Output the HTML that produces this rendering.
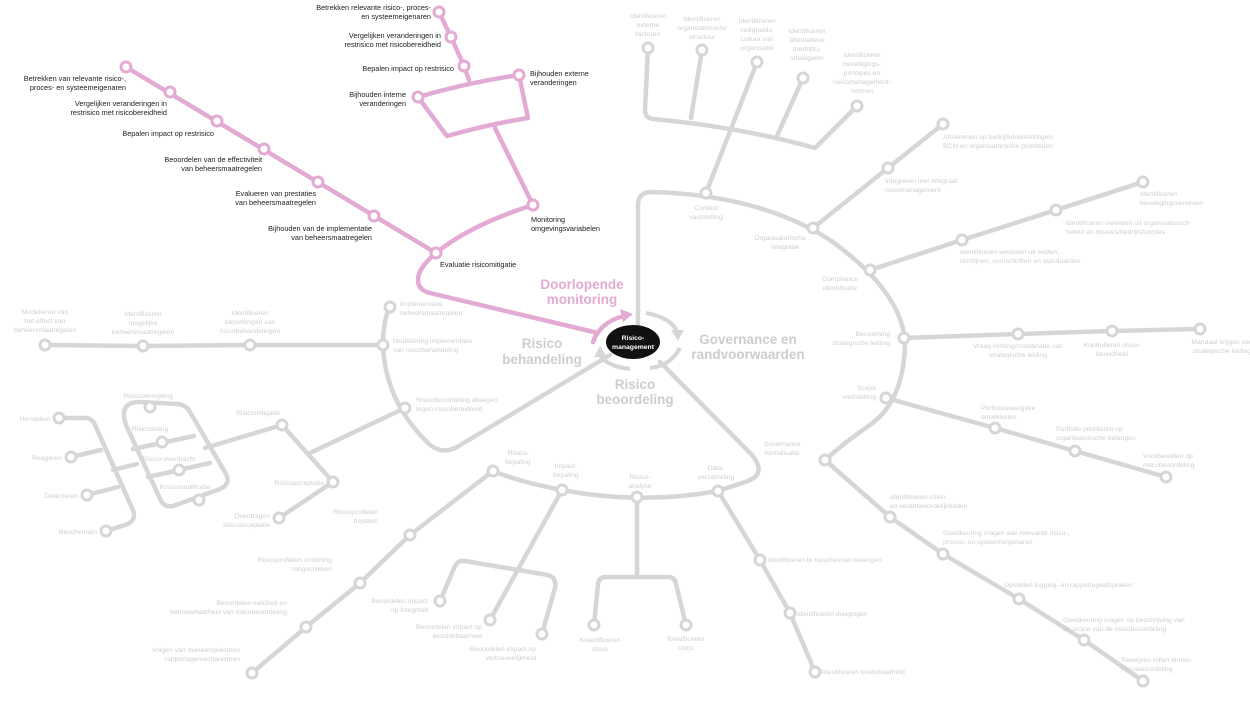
<!DOCTYPE html>
<html><head><meta charset="utf-8"><style>
html,body{margin:0;padding:0;background:#fff;}
svg{display:block;}
.g{fill:none;stroke:#d6d6d6;stroke-width:4.5;stroke-linecap:round;stroke-linejoin:round;}
.p{fill:none;stroke:#e3aad3;stroke-width:4.5;stroke-linecap:round;stroke-linejoin:round;}
.gn{fill:#fff;stroke:#d6d6d6;stroke-width:3;}
.pn{fill:#fff;stroke:#e3aad3;stroke-width:3;}
text{font-family:"Liberation Sans",sans-serif;}
.gt{font-size:6.8px;fill:#cfcfcf;}
.pt{font-size:7.3px;fill:#222;}
.big{font-size:13.5px;font-weight:bold;fill:#cdcdcd;}
</style></head><body>
<svg width="1250" height="703" viewBox="0 0 1250 703" xmlns="http://www.w3.org/2000/svg">
<!-- GOVERNANCE -->
<path class="g" d="M638,325 L638,205 Q638,192 652,192 Q760,195 830,240 Q900,290 905,340 Q905,400 870,425 Q845,442 825,460"/>
<path class="g" d="M648,48 L645,110 Q645,118 653,119 Q740,127 815,148 L857,106"/>
<path class="g" d="M702,50 L691,118"/><path class="g" d="M803,78 L777,136"/>
<path class="g" d="M757,62 L706,193"/>
<path class="g" d="M813,228 L888,168 L943,124"/>
<path class="g" d="M870,270 L962,240 L1056,210 L1143,182"/>
<path class="g" d="M904,338 L1018,334 L1112,331 L1200,329"/>
<path class="g" d="M886,398 L995,428 L1075,451 L1166,477"/>
<path class="g" d="M825,460 L890,517 L943,554 L1019,599 L1084,640 L1143,681"/>
<g class="gn">
<circle cx="648" cy="48" r="5"/><circle cx="702" cy="50" r="5"/><circle cx="757" cy="62" r="5"/><circle cx="803" cy="78" r="5"/><circle cx="857" cy="106" r="5"/>
<circle cx="706" cy="193" r="5"/><circle cx="813" cy="228" r="5"/><circle cx="888" cy="168" r="5"/><circle cx="943" cy="124" r="5"/>
<circle cx="870" cy="270" r="5"/><circle cx="962" cy="240" r="5"/><circle cx="1056" cy="210" r="5"/><circle cx="1143" cy="182" r="5"/>
<circle cx="904" cy="338" r="5"/><circle cx="1018" cy="334" r="5"/><circle cx="1112" cy="331" r="5"/><circle cx="1200" cy="329" r="5"/>
<circle cx="886" cy="398" r="5"/><circle cx="995" cy="428" r="5"/><circle cx="1075" cy="451" r="5"/><circle cx="1166" cy="477" r="5"/>
<circle cx="825" cy="460" r="5"/><circle cx="890" cy="517" r="5"/><circle cx="943" cy="554" r="5"/><circle cx="1019" cy="599" r="5"/><circle cx="1084" cy="640" r="5"/><circle cx="1143" cy="681" r="5"/>
</g>
<g class="gt" text-anchor="middle">
<text x="648" y="18">Identificeren</text><text x="648" y="27">externe</text><text x="648" y="36">factoren</text>
<text x="702" y="21">Identificeren</text><text x="702" y="30">organisatorische</text><text x="702" y="39">structuur</text>
<text x="757" y="23">Identificeren</text><text x="757" y="32">veiligheids-</text><text x="757" y="41">cultuur van</text><text x="757" y="50">organisatie</text>
<text x="807" y="33">Identificeren</text><text x="807" y="42">alternatieve</text><text x="807" y="51">(bedrijfs)-</text><text x="807" y="60">strategieën</text>
<text x="862" y="57">Identificeren</text><text x="862" y="66">beveiligings-</text><text x="862" y="75">principes en</text><text x="862" y="84">risicomanagement-</text><text x="862" y="93">normen</text>
<text x="706" y="210">Context</text><text x="706" y="219">vaststelling</text>
<text x="780" y="240">Organisatorische</text><text x="785" y="249">integratie</text>
<text x="840" y="281">Compliance</text><text x="840" y="290">identificatie</text>
<text x="1018" y="348">Vraag richting/coördinatie van</text><text x="1018" y="357">strategische leiding</text>
<text x="1112" y="347">Kontrolleren risico-</text><text x="1112" y="356">bereidheid</text>
<text x="1222" y="344">Mandaat krijgen van</text><text x="1222" y="353">strategische leiding</text>
<text x="782" y="446">Governance</text><text x="782" y="455">formalisatie</text>
</g>
<g class="gt">
<text x="885" y="183">Integreren met integraal</text><text x="885" y="192">risicomanagement</text>
<text x="943" y="139">Afstemmen op bedrijfsdoelstellingen,</text><text x="943" y="148">BCM en organisatorische prioriteiten</text>
<text x="960" y="254">Identificeren vereisten uit wetten,</text><text x="960" y="263">richtlijnen, voorschriften en standaarden</text>
<text x="1066" y="225">Identificeren vereisten uit organisatorisch</text><text x="1066" y="234">beleid en missies/bedrijfsfuncties</text>
<text x="1140" y="196">Identificeren</text><text x="1140" y="205">beveiligingsvereisten</text>
<text x="981" y="410">Portfolioweergave</text><text x="981" y="419">ontwikkelen</text>
<text x="1056" y="431">Portfolio prioriteren op</text><text x="1056" y="440">organisatorische belangen</text>
<text x="1143" y="458">Voorbereiden op</text><text x="1143" y="467">risicobeoordeling</text>
<text x="890" y="499">Identificeren rollen</text><text x="890" y="508">en verantwoordelijkheden</text>
<text x="943" y="535">Goedkeuring vragen aan relevante risico-,</text><text x="943" y="544">proces- en systeemeigenaren</text>
<text x="1004" y="587">Opstellen logging- en rapportageafspraken</text>
<text x="1063" y="622">Goedkeuring vragen op beschrijving van</text><text x="1063" y="631">de scope van de risicobeoordeling</text>
<text x="1121" y="662">Toewijzen rollen binnen</text><text x="1121" y="671">risicobeoordeling</text>
<text x="768" y="562">Identificeren te beschermen belangen</text>
<text x="797" y="616">Identificeren dreigingen</text>
<text x="822" y="674">Identificeren kwetsbaarheid</text>
<text x="400" y="306">Implementatie</text><text x="400" y="315">beheersmaatregelen</text>
<text x="393" y="343">Modellering implementatie</text><text x="393" y="352">van risicobehandeling</text>
<text x="416" y="402">Risicobeoordeling afwegen</text><text x="416" y="411">tegen risicobereidheid</text>
</g>
<g class="gt" text-anchor="end">
<text x="890" y="336">Benoeming</text><text x="890" y="345">strategische leiding</text>
<text x="876" y="390">Scope</text><text x="876" y="399">vaststelling</text>
</g>
<!-- BEOORDELING -->
<path class="g" d="M660,362 L752,455 Q768,475 745,482 L718,491 Q640,505 562,490 Q520,482 493,471"/>
<path class="g" d="M718,491 L760,560 L790,613 L815,672"/>
<path class="g" d="M637,497 L637,576"/>
<path class="g" d="M594,625 L598,584 Q599,577 606,577 L668,577 Q675,577 676,584 L686,625"/>
<path class="g" d="M562,490 L490,620"/>
<path class="g" d="M440,601 L455,566 Q458,560 465,561 L548,575 Q557,578 555,588 L542,634"/>
<path class="g" d="M493,471 L410,535 L360,583 L306,627 L252,673"/>
<g class="gn">
<circle cx="493" cy="471" r="5"/><circle cx="562" cy="490" r="5"/><circle cx="637" cy="497" r="5"/><circle cx="718" cy="491" r="5"/>
<circle cx="760" cy="560" r="5"/><circle cx="790" cy="613" r="5"/><circle cx="815" cy="672" r="5"/>
<circle cx="594" cy="625" r="5"/><circle cx="686" cy="625" r="5"/>
<circle cx="490" cy="620" r="5"/><circle cx="440" cy="601" r="5"/><circle cx="542" cy="634" r="5"/>
<circle cx="410" cy="535" r="5"/><circle cx="360" cy="583" r="5"/><circle cx="306" cy="627" r="5"/><circle cx="252" cy="673" r="5"/>
</g>
<g class="gt" text-anchor="middle">
<text x="518" y="455">Risico-</text><text x="518" y="464">bepaling</text>
<text x="566" y="468">Impact-</text><text x="566" y="477">bepaling</text>
<text x="640" y="479">Risico-</text><text x="640" y="488">analyse</text>
<text x="716" y="470">Data-</text><text x="716" y="479">verzameling</text>
<text x="600" y="642">Kwantificeren</text><text x="600" y="651">risico</text>
<text x="686" y="641">Kwalificeren</text><text x="686" y="650">risico</text>
</g>
<g class="gt" text-anchor="end">
<text x="428" y="603">Beoordelen impact</text><text x="428" y="612">op integriteit</text>
<text x="482" y="629">Beoordelen impact op</text><text x="482" y="638">beschikbaarheid</text>
<text x="536" y="651">Beoordelen impact op</text><text x="536" y="660">vertrouwelijkheid</text>
<text x="378" y="514">Risicoprofielen</text><text x="378" y="523">bepalen</text>
<text x="332" y="562">Risicoprofielen onderling</text><text x="332" y="571">rangschikken</text>
<text x="287" y="605">Beoordelen validiteit en</text><text x="287" y="614">betrouwbaarheid van risicobeoordeling</text>
<text x="240" y="652">Volgen van overeengekomen</text><text x="240" y="661">rapportagemechanismen</text>
</g>
<!-- BEHANDELING -->
<path class="g" d="M610,355 L457,447 Q440,456 426,441 Q385,400 383,345 Q383,320 390,307"/>
<path class="g" d="M383,345 L250,345 L143,346 L45,345"/>
<path class="g" d="M405,408 L310,453"/>
<path class="g" d="M282,425 L333,482 L279,518"/>
<path class="g" d="M282,425 L205,448"/>
<path class="g" d="M126,425 Q121,410 128,405 Q132,402 140,402 L178,404 Q186,405 190,412 L226,474 Q231,484 220,489 L176,505 Q166,509 161,501 Z"/>
<path class="g" d="M133,449 L194,436"/><path class="g" d="M148,477 L210,463"/>
<path class="g" d="M59,418 L85,418 Q92,418 95,425 L133,510 Q137,521 125,525 L106,531"/>
<path class="g" d="M71,457 L101,450"/><path class="g" d="M87,495 L118,487"/><path class="g" d="M113,470 L137,464"/>
<g class="gn">
<circle cx="390" cy="307" r="5"/><circle cx="383" cy="345" r="5"/><circle cx="405" cy="408" r="5"/>
<circle cx="250" cy="345" r="5"/><circle cx="143" cy="346" r="5"/><circle cx="45" cy="345" r="5"/>
<circle cx="282" cy="425" r="5"/><circle cx="333" cy="482" r="5"/><circle cx="279" cy="518" r="5"/>
<circle cx="150" cy="407" r="5"/><circle cx="162" cy="442" r="5"/><circle cx="179" cy="470" r="5"/><circle cx="199" cy="500" r="5"/>
<circle cx="59" cy="418" r="5"/><circle cx="71" cy="457" r="5"/><circle cx="87" cy="495" r="5"/><circle cx="106" cy="531" r="5"/>
</g>
<g class="gt" text-anchor="middle">
<text x="250" y="315">Identificeren</text><text x="250" y="324">beperkingen van</text><text x="250" y="333">risicobehandelingen</text>
<text x="143" y="316">Identificeren</text><text x="143" y="325">mogelijke</text><text x="143" y="334">beheersmaatregelen</text>
<text x="45" y="314">Modelleren van</text><text x="45" y="323">het effect van</text><text x="45" y="332">beheersmaatregelen</text>
<text x="148" y="398">Risicovermijding</text><text x="150" y="431">Risicodeling</text><text x="169" y="461">Risico-overdracht</text><text x="185" y="489">Risicomodificatie</text>
<text x="258" y="415">Risicomitigatie</text>
</g>
<g class="gt" text-anchor="end">
<text x="50" y="421">Herstellen</text><text x="62" y="460">Reageren</text><text x="78" y="498">Detecteren</text><text x="97" y="534">Beschermen</text>
<text x="324" y="485">Risicoacceptatie</text>
<text x="270" y="518">Overdragen</text><text x="270" y="527">risicoacceptatie</text>
</g>
<!-- PINK MONITORING -->
<path class="p" d="M126,67 L436,253"/>
<path class="p" d="M439,12 L451,37 L464,66 L469,80"/>
<path class="p" d="M418,97 Q470,82 519,75 L528,118 Q490,124 447,136 Z"/>
<path class="p" d="M495,128 L533,205"/>
<path class="p" d="M533,205 Q470,225 436,253 Q418,268 418,280 Q418,290 430,293 L598,333"/>
<path class="p" d="M593,342 Q600,322 624,316"/>
<path fill="#e3aad3" d="M633,314 L620,309 L623,322 Z"/>
<g class="pn">
<circle cx="126" cy="67" r="5"/><circle cx="170" cy="92" r="5"/><circle cx="217" cy="121" r="5"/><circle cx="264" cy="149" r="5"/><circle cx="318" cy="182" r="5"/><circle cx="374" cy="216" r="5"/><circle cx="436" cy="253" r="5"/>
<circle cx="439" cy="12" r="5"/><circle cx="451" cy="37" r="5"/><circle cx="464" cy="66" r="5"/>
<circle cx="519" cy="75" r="5"/><circle cx="418" cy="97" r="5"/><circle cx="533" cy="205" r="5"/>
</g>
<g class="pt" text-anchor="end">
<text x="431" y="10">Betrekken relevante risico-, proces-</text><text x="431" y="19">en systeemeigenaren</text>
<text x="441" y="38">Vergelijken veranderingen in</text><text x="441" y="47">restrisico met risicobereidheid</text>
<text x="454" y="71">Bepalen impact op restrisico</text>
<text x="406" y="97">Bijhouden interne</text><text x="406" y="106">veranderingen</text>
<text x="126" y="81">Betrekken van relevante risico-,</text><text x="126" y="90">proces- en systeemeigenaren</text>
<text x="167" y="106">Vergelijken veranderingen in</text><text x="167" y="115">restrisico met risicobereidheid</text>
<text x="214" y="136">Bepalen impact op restrisico</text>
<text x="262" y="162">Beoordelen van de effectiviteit</text><text x="262" y="171">van beheersmaatregelen</text>
<text x="316" y="196">Evalueren van prestaties</text><text x="316" y="205">van beheersmaatregelen</text>
<text x="372" y="231">Bijhouden van de implementatie</text><text x="372" y="240">van beheersmaatregelen</text>
</g>
<g class="pt">
<text x="530" y="76">Bijhouden externe</text><text x="530" y="85">veranderingen</text>
<text x="531" y="222">Monitoring</text><text x="531" y="231">omgevingsvariabelen</text>
<text x="440" y="267">Evaluatie risicomitigatie</text>
</g>
<!-- CENTER -->
<path fill="none" stroke="#d6d6d6" stroke-width="4" d="M646,313 Q672,318 677,332"/>
<path fill="#d6d6d6" d="M671,330 L684,330 L678,341 Z"/>
<path fill="none" stroke="#d6d6d6" stroke-width="4" d="M680,348 Q670,366 650,368"/>
<path fill="none" stroke="#d6d6d6" stroke-width="4" d="M630,369 Q606,366 600,355"/>
<path fill="#d6d6d6" d="M594,357 L600,346 L607,357 Z"/>
<ellipse cx="633" cy="342" rx="27" ry="17" fill="#111"/>
<text x="633" y="340" text-anchor="middle" style="font-size:6.8px;fill:#fff;font-weight:bold">Risico-</text>
<text x="633" y="349" text-anchor="middle" style="font-size:6.8px;fill:#fff;font-weight:bold">management</text>
<text x="582" y="289" text-anchor="middle" style="font-size:13.5px;font-weight:bold;fill:#e3aad3">Doorlopende</text>
<text x="582" y="304" text-anchor="middle" style="font-size:13.5px;font-weight:bold;fill:#e3aad3">monitoring</text>
<text class="big" x="542" y="348" text-anchor="middle">Risico</text>
<text class="big" x="542" y="364" text-anchor="middle">behandeling</text>
<text class="big" x="635" y="389" text-anchor="middle">Risico</text>
<text class="big" x="635" y="404" text-anchor="middle">beoordeling</text>
<text class="big" x="748" y="344" text-anchor="middle">Governance en</text>
<text class="big" x="748" y="359" text-anchor="middle">randvoorwaarden</text>
</svg>
</body></html>
